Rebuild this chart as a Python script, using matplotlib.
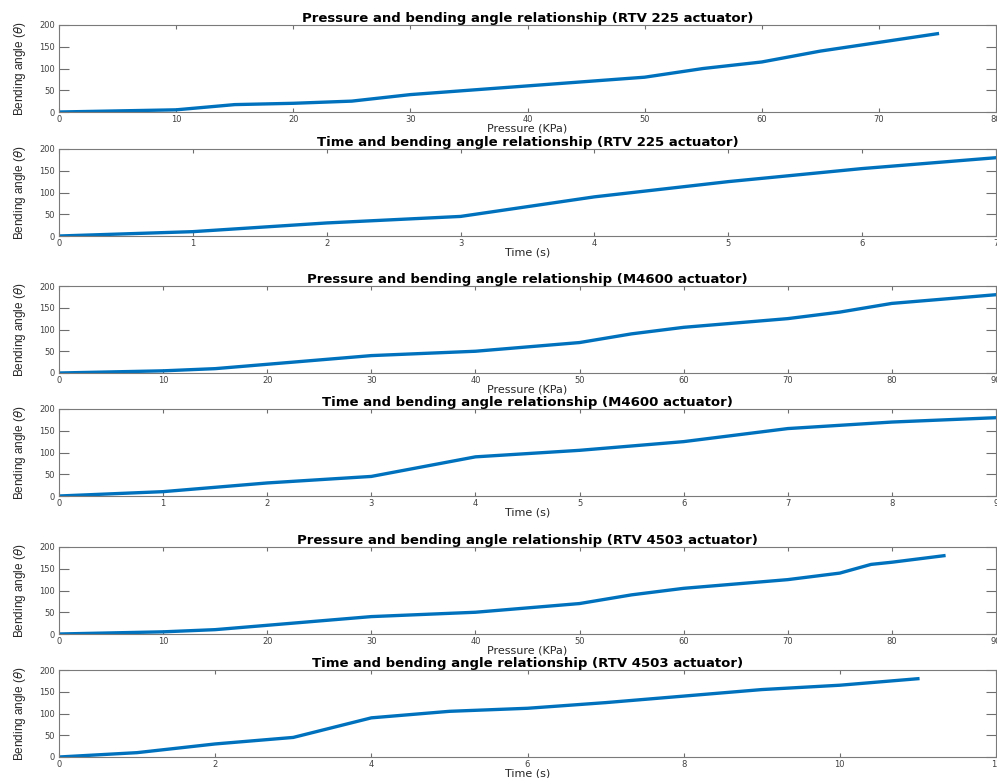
import matplotlib.pyplot as plt
import numpy as np

# RTV 225 actuator
rtv225_pressure = [0, 10, 15, 20, 25, 30, 35, 40, 45, 50, 55, 60, 65, 70, 75]
rtv225_angle_p = [0, 5, 17, 20, 25, 40, 50, 60, 70, 80, 100, 115, 140, 160, 180]
rtv225_time = [0, 1, 2, 3, 4, 5, 6, 7]
rtv225_angle_t = [0, 10, 30, 45, 90, 125, 155, 180]

# M4600 actuator
m4600_pressure = [0, 10, 15, 20, 25, 30, 35, 40, 45, 50, 55, 60, 65, 70, 75, 80, 85, 90]
m4600_angle_p = [0, 5, 10, 20, 30, 40, 45, 50, 60, 70, 90, 105, 115, 125, 140, 160, 170, 180]
m4600_time = [0, 1, 2, 3, 4, 5, 6, 7, 8, 9]
m4600_angle_t = [0, 10, 30, 45, 90, 105, 125, 155, 170, 180]

# RTV 4503 actuator
rtv4503_pressure = [0, 10, 15, 20, 25, 30, 35, 40, 45, 50, 55, 60, 65, 70, 75, 78, 80, 85]
rtv4503_angle_p = [0, 5, 10, 20, 30, 40, 45, 50, 60, 70, 90, 105, 115, 125, 140, 160, 165, 180]
rtv4503_time = [0, 1, 2, 3, 4, 5, 6, 7, 8, 9, 10, 11]
rtv4503_angle_t = [0, 10, 30, 45, 90, 105, 112, 125, 140, 155, 165, 180]

panels = [
    (rtv225_pressure, rtv225_angle_p, 'Pressure and bending angle relationship (RTV 225 actuator)', 'Pressure (KPa)', 80, 10),
    (rtv225_time, rtv225_angle_t, 'Time and bending angle relationship (RTV 225 actuator)', 'Time (s)', 7, 1),
    (m4600_pressure, m4600_angle_p, 'Pressure and bending angle relationship (M4600 actuator)', 'Pressure (KPa)', 90, 10),
    (m4600_time, m4600_angle_t, 'Time and bending angle relationship (M4600 actuator)', 'Time (s)', 9, 1),
    (rtv4503_pressure, rtv4503_angle_p, 'Pressure and bending angle relationship (RTV 4503 actuator)', 'Pressure (KPa)', 90, 10),
    (rtv4503_time, rtv4503_angle_t, 'Time and bending angle relationship (RTV 4503 actuator)', 'Time (s)', 12, 2),
]

# axes top edges in pixels (figure is 997 x 778)
W, H = 997, 778
tops = [25, 149, 286, 409, 547, 670]
ax_h = 87
left, right = 59, 996

fig = plt.figure(figsize=(W / 100, H / 100), dpi=100)

for (x, y, title, xlabel, xmax, step), top in zip(panels, tops):
    ax = fig.add_axes([left / W, 1 - (top + ax_h) / H, (right - left) / W, ax_h / H])
    ax.plot(x, y, color='#0072BD', linewidth=2.4)
    ax.set_xlim(0, xmax)
    ax.set_ylim(0, 200)
    ax.set_xticks(np.arange(0, xmax + step, step))
    ax.set_yticks([0, 50, 100, 150, 200])

    ax.set_title(title, fontsize=9.5, fontweight='bold', pad=2)
    ax.set_xlabel(xlabel, fontsize=8, color='#262626', labelpad=-0.5)
    ax.set_ylabel('Bending angle ($\\theta$)', fontsize=8.5, color='#262626',
                  family='Liberation Sans', labelpad=8)

    ax.tick_params(direction='in', top=True, right=True, labelsize=6,
                   labelcolor='#404040', color='#6e6e6e', width=0.8)
    ax.tick_params(axis='x', length=3, pad=2)
    ax.tick_params(axis='y', length=7, pad=3)
    for s in ax.spines.values():
        s.set_color('#7a7a7a')
        s.set_linewidth(0.8)

fig.savefig('out.png', dpi=100)
